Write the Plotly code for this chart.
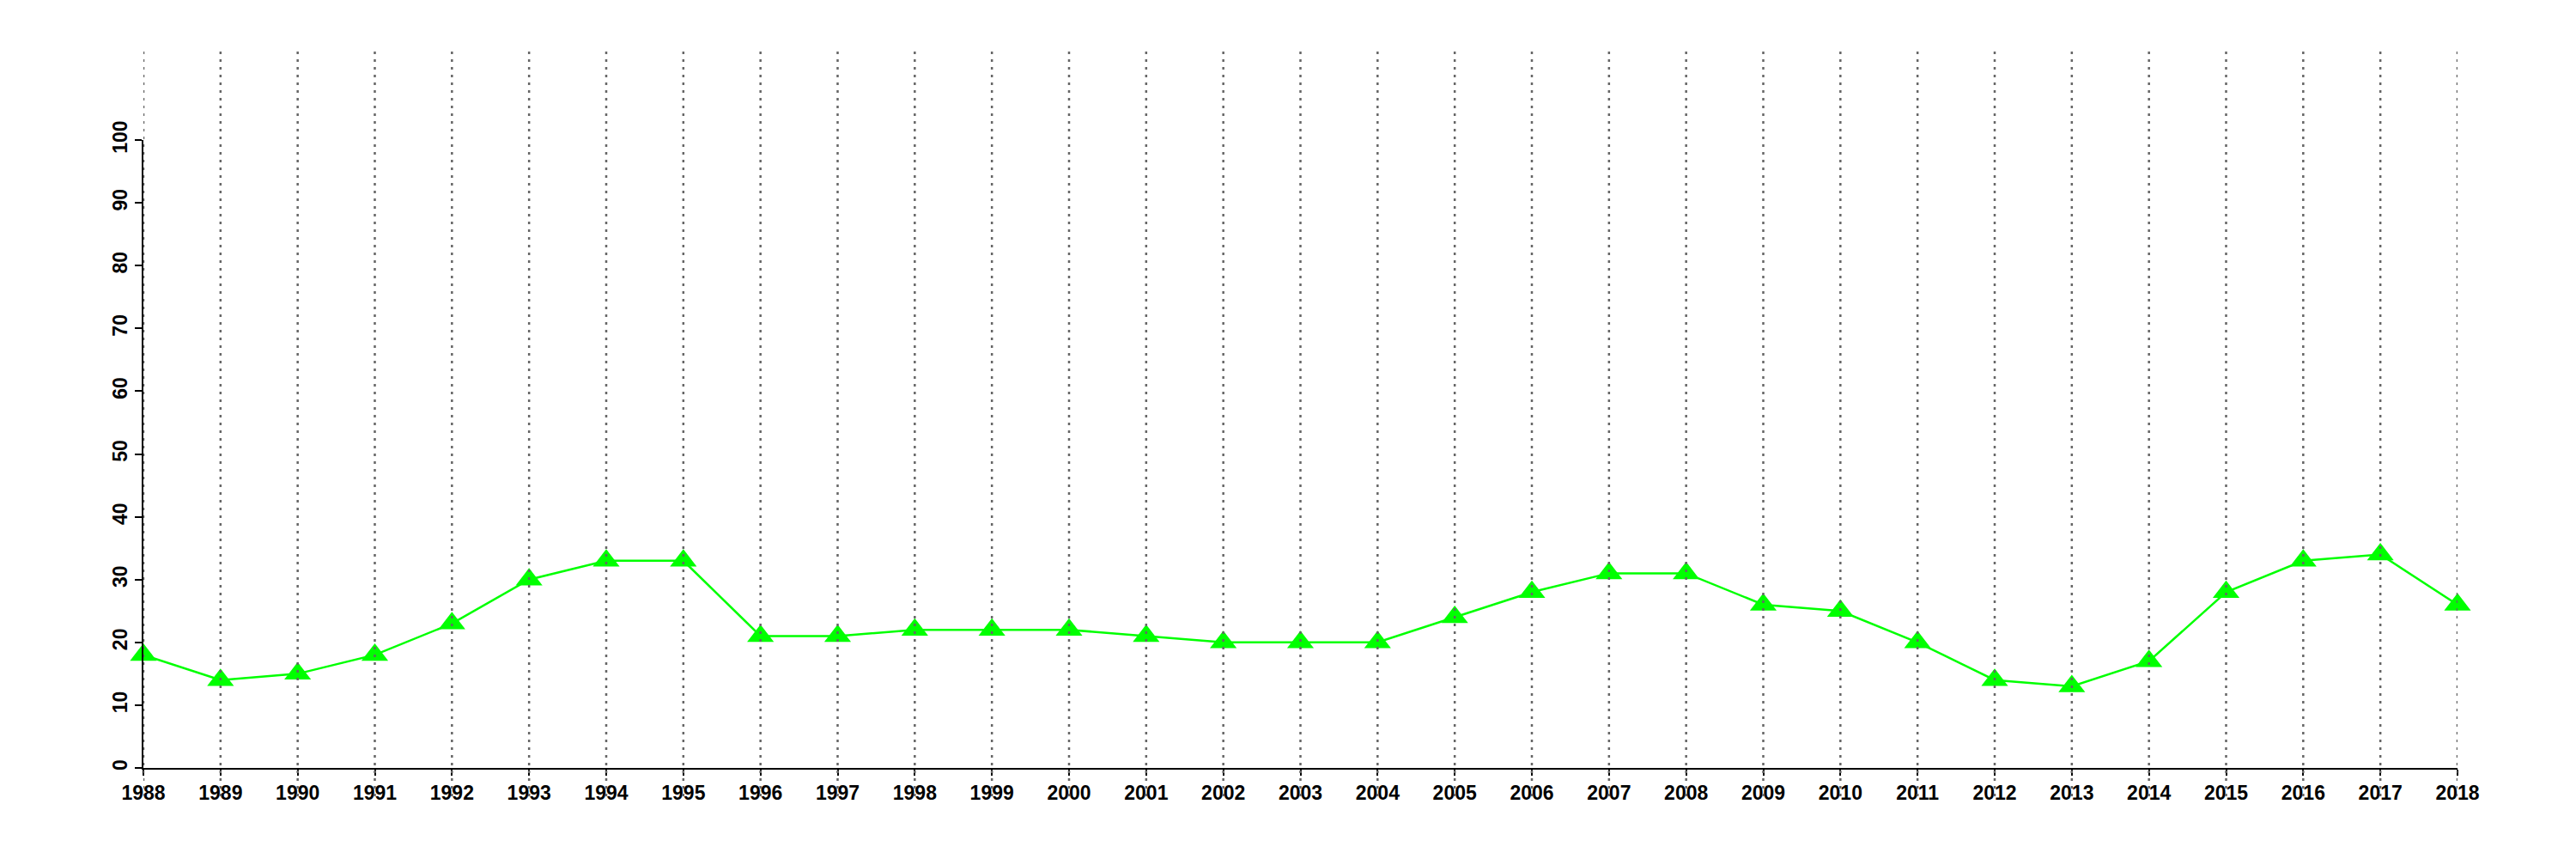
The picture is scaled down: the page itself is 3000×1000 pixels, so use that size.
import plotly.graph_objects as go

years = list(range(1988, 2019))
values = [18, 14, 15, 18, 23, 30, 33, 33, 21, 21, 22, 22, 22, 21, 20, 20, 20,
          24, 28, 31, 31, 26, 25, 20, 14, 13, 17, 28, 33, 34, 26]
y_ticks = list(range(0, 101, 10))

fig = go.Figure()
fig.add_trace(go.Scatter(
    x=years, y=values, mode="lines+markers",
    line=dict(color="#00FF00", width=2.5),
    marker=dict(symbol="triangle-up", size=27, color="#00FF00", line=dict(width=0)),
    cliponaxis=False, showlegend=False,
))

shapes = []
for yr in years:
    shapes.append(dict(type="line", xref="x", yref="paper", x0=yr, x1=yr,
                       y0=-0.045, y1=1.141, layer="above",
                       line=dict(color="#666666", width=2.5, dash="3px,6px")))

tickfont = dict(family="Liberation Sans, Arial, sans-serif", size=23, color="black", weight="bold")

fig.update_layout(
    width=2984, height=984,
    margin=dict(l=159, r=130, t=155, b=98, autoexpand=False),
    plot_bgcolor="white", paper_bgcolor="white",
    shapes=shapes,
    xaxis=dict(range=[1988, 2018], tickvals=years, ticktext=[str(y) for y in years],
               showgrid=False, zeroline=False, showline=True, linecolor="black", linewidth=2,
               ticks="outside", ticklen=7, tickwidth=2, tickcolor="black", tickfont=tickfont,
               tickangle=0, automargin=False),
    yaxis=dict(range=[0, 100], tickvals=y_ticks, showgrid=False, zeroline=False,
               showline=True, linecolor="black", linewidth=2,
               ticks="outside", ticklen=8, tickwidth=2, tickcolor="black", tickfont=tickfont,
               tickangle=-90, automargin=False),
)

fig.write_html("out.html")
